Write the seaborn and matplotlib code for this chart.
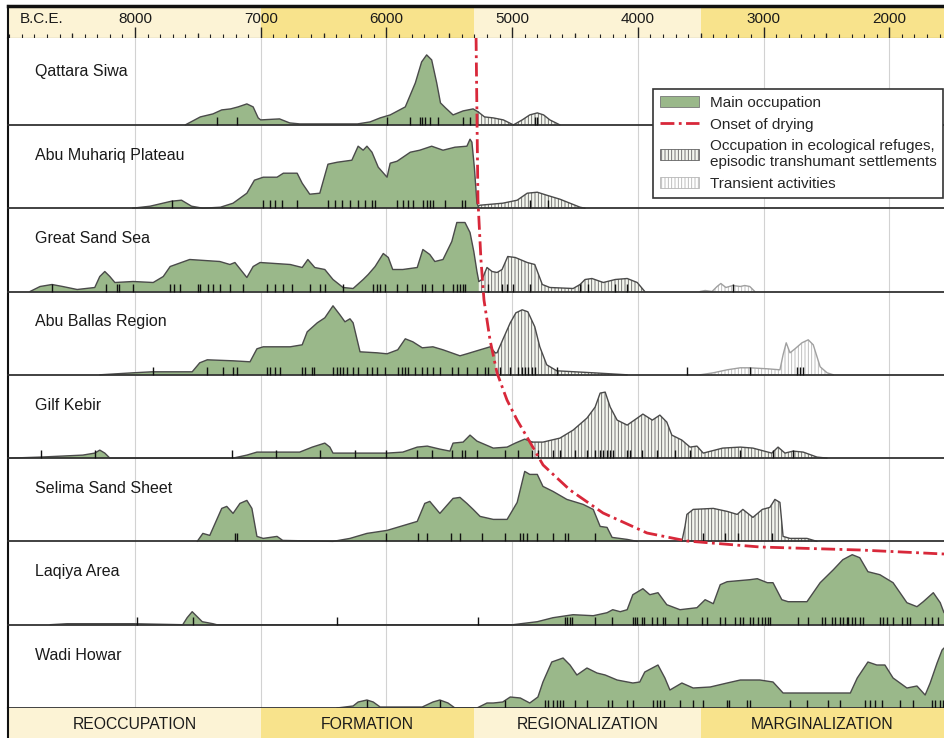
import matplotlib
matplotlib.use("Agg")
import numpy as np
import matplotlib.pyplot as plt
import seaborn as sns
from matplotlib.patches import Patch
from matplotlib.lines import Line2D
from matplotlib.ticker import MultipleLocator

# regions, top to bottom
regions = ['Qattara Siwa', 'Abu Muhariq Plateau', 'Great Sand Sea', 'Abu Ballas Region',
           'Gilf Kebir', 'Selima Sand Sheet', 'Laqiya Area', 'Wadi Howar']

phases = ['REOCCUPATION', 'FORMATION', 'REGIONALIZATION', 'MARGINALIZATION']
phase_start = [9100, 7000, 5300, 3500]
phase_end = [7000, 5300, 3500, 1400]

year_labels = [8000, 7000, 6000, 5000, 4000, 3000, 2000]

# (year B.C.E., relative height) along the occupation curves
qattara_main = [(7600, 0), (7480, 8), (7380, 11), (7310, 15), (7240, 16), (7180, 18), (7110, 21),
                (7060, 18), (7020, 7), (7000, 5), (6850, 6), (6770, 2), (6690, 1), (6230, 1),
                (6130, 3), (6050, 7), (5970, 10), (5850, 18), (5770, 42), (5720, 63), (5680, 70),
                (5640, 65), (5600, 42), (5570, 22), (5530, 17), (5470, 10), (5390, 14), (5310, 16),
                (5270, 13)]
qattara_refuge = [(5270, 13), (5220, 8), (5150, 7), (5070, 5), (4990, 0), (4920, 5), (4860, 10),
                  (4800, 12), (4750, 10), (4700, 5), (4620, 0)]
qattara_dates = [7348, 7189, 5995, 5812, 5733, 5717, 5693, 5653, 5590, 5391, 5335, 4818, 4802]

abu_muhariq_main = [(8020, 0), (7880, 2), (7710, 7), (7630, 8), (7550, 2), (7460, 0), (7320, 1),
                    (7220, 5), (7110, 15), (7050, 28), (6980, 31), (6870, 31), (6820, 35),
                    (6710, 35), (6670, 25), (6610, 14), (6530, 15), (6465, 44), (6390, 46),
                    (6275, 48), (6225, 62), (6185, 58), (6155, 62), (6115, 56), (6065, 41),
                    (5995, 31), (5970, 45), (5915, 47), (5810, 56), (5735, 58), (5640, 62),
                    (5550, 58), (5455, 61), (5360, 62), (5335, 69), (5320, 66), (5300, 40),
                    (5280, 5), (5270, 2)]
abu_muhariq_refuge = [(5270, 2), (5255, 3), (5075, 5), (4960, 8), (4880, 15), (4800, 16),
                      (4725, 13), (4620, 9), (4540, 5), (4460, 1), (4420, 0)]
abu_muhariq_dates = [7706, 6982, 6926, 6886, 6831, 6711, 6465, 6409, 6353, 6290, 6226, 6170, 6115,
                     6091, 5916, 5868, 5828, 5789, 5709, 5677, 5653, 5629, 5534, 5399, 5375, 4858,
                     4715]

great_sand_main = [(8835, 0), (8755, 5), (8660, 7), (8575, 5), (8460, 2), (8320, 4), (8280, 15),
                   (8240, 20), (8200, 15), (8160, 9), (8015, 10), (7855, 9), (7775, 15), (7720, 25),
                   (7565, 32), (7325, 30), (7245, 27), (7205, 29), (7110, 14), (7060, 25),
                   (7005, 29), (6765, 27), (6670, 24), (6625, 32), (6570, 24), (6490, 22),
                   (6425, 12), (6345, 4), (6265, 3), (6185, 12), (6145, 17), (6090, 25), (6025, 38),
                   (5985, 34), (5950, 22), (5870, 22), (5755, 24), (5710, 42), (5655, 37),
                   (5615, 30), (5550, 32), (5480, 50), (5440, 69), (5375, 69), (5335, 59),
                   (5305, 40), (5280, 20), (5265, 10)]
great_sand_refuge = [(5265, 10), (5240, 12), (5200, 24), (5160, 20), (5120, 19), (5080, 22),
                     (5035, 35), (4975, 34), (4880, 29), (4820, 27), (4760, 7), (4700, 4),
                     (4515, 3), (4460, 7), (4420, 12), (4365, 13), (4275, 9), (4180, 12),
                     (4085, 13), (4005, 9), (3945, 0)]
great_sand_transient = [(3505, 0), (3465, 1), (3410, 0), (3370, 5), (3340, 8), (3300, 4),
                        (3245, 6), (3185, 5), (3150, 6), (3110, 5), (3070, 0)]
great_sand_dates = [8660, 8231, 8143, 8127, 8016, 7722, 7690, 7642, 7499, 7483, 7419, 7380, 7324,
                    7244, 7141, 6950, 6886, 6823, 6751, 6608, 6528, 6489, 6345, 6107, 6075, 6051,
                    6011, 5916, 5836, 5717, 5693, 5637, 5550, 5470, 5439, 5415, 5391, 5375, 5192,
                    5081, 5041, 4993, 4858, 4460, 4396, 4182, 4086, 3243]

abu_ballas_main = [(8280, 0), (8015, 2), (7865, 3), (7545, 3), (7485, 12), (7425, 15), (7220, 14),
                   (7085, 13), (7030, 26), (6980, 28), (6765, 28), (6670, 30), (6630, 43),
                   (6550, 52), (6490, 57), (6425, 69), (6370, 60), (6330, 53), (6290, 56),
                   (6265, 52), (6210, 23), (6075, 22), (5995, 21), (5910, 25), (5850, 36),
                   (5790, 33), (5715, 27), (5630, 28), (5550, 25), (5415, 19), (5360, 21),
                   (5255, 25), (5175, 28), (5135, 22)]
abu_ballas_refuge = [(5135, 22), (5120, 22), (5075, 35), (5015, 52), (4970, 62), (4920, 65),
                     (4875, 63), (4820, 48), (4780, 28), (4725, 10), (4645, 4), (4355, 2),
                     (4085, 0)]
abu_ballas_transient = [(3505, 0), (3400, 2), (3290, 5), (3185, 7), (3110, 7), (2970, 6),
                        (2870, 5), (2845, 20), (2820, 32), (2790, 22), (2750, 26), (2695, 32),
                        (2645, 35), (2605, 30), (2575, 18), (2550, 8), (2495, 2), (2445, 0)]
abu_ballas_dates = [7857, 7427, 7300, 7221, 7189, 6950, 6926, 6886, 6847, 6672, 6648, 6592, 6576,
                    6425, 6393, 6369, 6345, 6314, 6266, 6226, 6155, 6115, 6075, 6011, 5908, 5876,
                    5852, 5828, 5773, 5717, 5677, 5629, 5574, 5478, 5431, 5359, 5279, 5216, 5192,
                    5097, 5017, 4953, 4921, 4898, 4874, 4842, 4818, 4643, 3609, 3108, 2734, 2710,
                    2686]

gilf_kebir_main = [(8995, 0), (8755, 1), (8415, 3), (8320, 5), (8280, 8), (8240, 5), (8200, 0),
                   (7220, 0), (7110, 3), (7030, 6), (6690, 6), (6590, 11), (6490, 15), (6450, 11),
                   (6425, 5), (6265, 5), (5995, 5), (5870, 6), (5755, 11), (5675, 12), (5575, 9),
                   (5495, 7), (5470, 15), (5390, 16), (5335, 23), (5280, 17), (5150, 10),
                   (5040, 11), (4975, 15), (4900, 19), (4840, 16)]
gilf_kebir_refuge = [(4840, 16), (4755, 16), (4620, 20), (4515, 28), (4405, 40), (4340, 51),
                     (4300, 65), (4260, 66), (4220, 51), (4165, 38), (4085, 33), (4005, 40),
                     (3960, 44), (3885, 38), (3825, 43), (3770, 36), (3730, 23), (3650, 18),
                     (3585, 11), (3530, 12), (3480, 5), (3325, 10), (3185, 11), (3085, 10),
                     (2935, 5), (2885, 11), (2830, 5), (2765, 7), (2685, 6), (2575, 1), (2495, 0)]
gilf_kebir_dates = [8748, 8318, 7228, 6878, 6528, 6250, 6003, 5757, 5637, 5478, 5399, 5375, 5279,
                    5057, 4953, 4842, 4794, 4675, 4619, 4500, 4404, 4341, 4301, 4277, 4245, 4222,
                    4198, 4086, 4062, 3967, 3848, 3704, 3585, 3187, 2925, 2766]

selima_main = [(7505, 0), (7460, 8), (7405, 6), (7310, 33), (7270, 35), (7220, 28), (7165, 38),
               (7110, 41), (7070, 33), (7030, 5), (6980, 3), (6870, 5), (6825, 1), (6425, 0),
               (6290, 3), (6155, 8), (5995, 11), (5755, 20), (5695, 38), (5655, 40), (5575, 28),
               (5470, 43), (5415, 44), (5360, 38), (5310, 32), (5255, 25), (5150, 22), (5040, 22),
               (4960, 39), (4900, 70), (4860, 67), (4800, 67), (4755, 55), (4675, 50), (4565, 42),
               (4435, 37), (4355, 32), (4300, 15), (4245, 14), (4205, 4), (4085, 2), (4005, 0)]
selima_refuge = [(3650, 0), (3625, 15), (3610, 27), (3560, 32), (3400, 33), (3290, 30), (3210, 27),
                 (3165, 32), (3085, 24), (3010, 32), (2950, 34), (2910, 42), (2870, 39), (2845, 5),
                 (2790, 3), (2655, 3), (2575, 0)]
selima_dates = [7205, 7189, 6003, 5749, 5677, 5486, 5415, 5240, 5057, 4937, 4913, 4882, 4802, 4675,
                4579, 4556, 4341, 3482, 3307, 3203, 2933]

laqiya_main = [(8675, 0), (8540, 1), (8015, 1), (7620, 0), (7585, 7), (7545, 13), (7505, 8),
               (7465, 3), (7380, 1), (7350, 0), (4995, 0), (4800, 3), (4675, 7), (4515, 10),
               (4355, 9), (4245, 12), (4200, 15), (4140, 13), (4085, 15), (4040, 30), (3960, 36),
               (3905, 30), (3840, 32), (3770, 20), (3665, 15), (3530, 17), (3465, 25), (3400, 21),
               (3345, 40), (3290, 43), (3110, 45), (3050, 46), (2970, 42), (2925, 42), (2855, 25),
               (2805, 23), (2655, 23), (2550, 42), (2445, 55), (2370, 65), (2295, 70), (2235, 67),
               (2170, 53), (2075, 50), (1970, 42), (1860, 22), (1780, 18), (1730, 23), (1650, 32),
               (1595, 22), (1565, 12)]
laqiya_dates = [7984, 7539, 6393, 5272, 4579, 4563, 4540, 4524, 4341, 4206, 4038, 4023, 4007, 3967,
                3951, 3887, 3848, 3800, 3784, 3681, 3609, 3490, 3450, 3346, 3307, 3227, 3187, 3163,
                3108, 3084, 3044, 3012, 2988, 2965, 2949, 2726, 2646, 2535, 2511, 2455, 2431, 2392,
                2368, 2336, 2328, 2296, 2272, 2233, 2209, 2074, 2050, 2018, 1970, 1899, 1859, 1835,
                1716, 1660, 1612]

wadi_howar_main = [(6395, 0), (6265, 2), (6225, 6), (6155, 8), (6105, 6), (6050, 1), (5715, 1),
                   (5630, 6), (5575, 8), (5510, 5), (5455, 0), (5280, 0), (5200, 5), (5150, 5),
                   (5075, 6), (5015, 11), (4935, 10), (4860, 5), (4795, 11), (4755, 26), (4685, 46),
                   (4595, 50), (4540, 43), (4485, 33), (4405, 40), (4325, 35), (4260, 33),
                   (4165, 28), (4040, 25), (3985, 26), (3945, 36), (3885, 40), (3840, 43),
                   (3785, 30), (3745, 18), (3650, 25), (3560, 20), (3425, 21), (3290, 25),
                   (3185, 28), (3030, 28), (2925, 26), (2845, 15), (2605, 15), (2310, 15),
                   (2255, 30), (2170, 46), (2100, 43), (2035, 43), (1970, 30), (1860, 20),
                   (1780, 22), (1715, 13), (1675, 25), (1620, 45), (1580, 58), (1565, 60)]
wadi_howar_dates = [6155, 5574, 5057, 4738, 4715, 4675, 4643, 4619, 4595, 4500, 4404, 4237, 4206,
                    4086, 4038, 3879, 3848, 3824, 3792, 3665, 3561, 3482, 3291, 3275, 3132, 3108,
                    2789, 2654, 2487, 2392, 2193, 2153, 2114, 2058, 1915, 1811, 1660, 1636, 1596,
                    1572]

# onset of drying: year and level on the stacked panel
dry_year = [5287, 5279, 5272, 5248, 5224, 5176, 5120, 5041, 4961, 4882, 4754, 4540, 4277, 3927,
            3609, 3028, 2233, 1565]
dry_level = [671, 583, 508, 448, 408, 368, 335, 308, 288, 271, 243, 218, 195, 175, 167, 161, 158,
             154]

rows = [
    (qattara_main, qattara_refuge, [], qattara_dates),
    (abu_muhariq_main, abu_muhariq_refuge, [], abu_muhariq_dates),
    (great_sand_main, great_sand_refuge, great_sand_transient, great_sand_dates),
    (abu_ballas_main, abu_ballas_refuge, abu_ballas_transient, abu_ballas_dates),
    (gilf_kebir_main, gilf_kebir_refuge, [], gilf_kebir_dates),
    (selima_main, selima_refuge, [], selima_dates),
    (laqiya_main, [], [], laqiya_dates),
    (wadi_howar_main, [], [], wadi_howar_dates),
]

sns.set_style("white")
plt.rcParams['font.family'] = ['Liberation Sans', 'DejaVu Sans']
plt.rcParams['hatch.linewidth'] = 0.6

GREEN = '#9ab88a'
OUTLINE = '#4a4a4a'
REFUGE_FILL = '#f3f6ee'
REFUGE_HATCH = '#626262'
TRANS_HATCH = '#b5b5b5'
TRANS_LINE = '#a0a0a0'
CREAM = '#fcf3d5'
YELLOW = '#f8e38c'
RED = '#d8283a'
DRY_STYLE = (0, (5, 1.6, 1, 1.6))

X_LEFT, X_RIGHT = 9010, 1565
ROW_STEP = 83.3

fig = plt.figure(figsize=(9.44, 7.38), dpi=100)
ax_top = fig.add_axes([8 / 944, 1 - 38 / 738, 936 / 944, 32 / 738])
ax = fig.add_axes([8 / 944, 30 / 738, 936 / 944, 670 / 738])
ax_bot = fig.add_axes([8 / 944, 0, 936 / 944, 30 / 738])


def draw_curve(ax, pts, base, kind):
    xs = [p[0] for p in pts]
    ys = [base + p[1] for p in pts]
    if kind == 'main':
        ax.fill_between(xs, base, ys, facecolor=GREEN, edgecolor='none', linewidth=0, zorder=2)
        col = OUTLINE
    elif kind == 'refuge':
        ax.fill_between(xs, base, ys, facecolor=REFUGE_FILL, edgecolor=REFUGE_HATCH,
                        hatch='|||||', linewidth=0, zorder=2)
        col = OUTLINE
    else:
        ax.fill_between(xs, base, ys, facecolor='white', edgecolor=TRANS_HATCH,
                        hatch='|||||', linewidth=0, zorder=2)
        col = TRANS_LINE
    sns.lineplot(x=xs, y=ys, ax=ax, color=col, lw=1.0, sort=False, estimator=None, zorder=3)


# ---- top time band
for s, e, c in zip(phase_start, phase_end, [CREAM, YELLOW, CREAM, YELLOW]):
    ax_top.axvspan(s, e, color=c, lw=0, zorder=0)
ax_top.set_axisbelow(False)
ax_top.set_xlim(X_LEFT, X_RIGHT)
ax_top.set_ylim(0, 1)
ax_top.set_yticks([])
ax_top.set_xticks(year_labels)
ax_top.xaxis.set_minor_locator(MultipleLocator(100))
ax_top.tick_params(axis='x', which='both', bottom=True, top=False, direction='in',
                   color='#222222', labelbottom=False)
ax_top.tick_params(axis='x', which='major', length=8, width=1.0)
ax_top.tick_params(axis='x', which='minor', length=3, width=0.8)
ax_top.vlines([y + 500 for y in year_labels] + [1500], 0, 5.5 / 32, color='#222222', lw=0.9)
for yr in year_labels:
    ax_top.text(yr, 0.58, str(yr), ha='center', va='center', fontsize=11, color='#1a1a1a')
ax_top.text(8915, 0.58, 'B.C.E.', ha='left', va='center', fontsize=11, color='#1a1a1a')
ax_top.spines['right'].set_visible(False)
ax_top.spines['top'].set_linewidth(2.5)
ax_top.spines['top'].set_color('#111111')
ax_top.spines['left'].set_linewidth(1.5)
ax_top.spines['left'].set_color('#111111')
ax_top.spines['bottom'].set_linewidth(0.8)
ax_top.spines['bottom'].set_color('#444444')

# ---- main stacked panel
ax.set_xlim(X_LEFT, X_RIGHT)
ax.set_ylim(0, 670)
ax.set_xticks([])
ax.set_yticks([])
for yr in year_labels:
    ax.axvline(yr, color='#d2d2d2', lw=0.8, zorder=0)
for side in ['top', 'right', 'bottom']:
    ax.spines[side].set_visible(False)
ax.spines['left'].set_linewidth(1.5)
ax.spines['left'].set_color('#111111')

for i, (name, (main, refuge, transient, dates)) in enumerate(zip(regions, rows)):
    base = (7 - i) * ROW_STEP
    draw_curve(ax, main, base, 'main')
    if refuge:
        draw_curve(ax, refuge, base, 'refuge')
    if transient:
        draw_curve(ax, transient, base, 'transient')
    ax.vlines(dates, base, base + 8, color='#111111', lw=1.0, zorder=5)
    ax.axhline(base, color='#333333', lw=1.3, zorder=4, clip_on=False)
    ax.text(8796, base + 53, name, ha='left', va='center', fontsize=11.5, color='#1a1a1a',
            zorder=6)

sns.lineplot(x=dry_year, y=dry_level, ax=ax, color=RED, lw=2.0, sort=False, estimator=None,
             linestyle=DRY_STYLE, zorder=7)

# ---- bottom phase band
for s, e, c, p in zip(phase_start, phase_end, [CREAM, YELLOW, CREAM, YELLOW], phases):
    ax_bot.axvspan(s, e, color=c, lw=0)
    mid = (min(s, X_LEFT) + max(e, X_RIGHT)) / 2
    ax_bot.text(mid, 0.45, p, ha='center', va='center', fontsize=11.3, color='#1a1a1a')
ax_bot.set_xlim(X_LEFT, X_RIGHT)
ax_bot.set_ylim(0, 1)
ax_bot.set_xticks([])
ax_bot.set_yticks([])
for side in ['top', 'right', 'bottom']:
    ax_bot.spines[side].set_visible(False)
ax_bot.spines['left'].set_linewidth(1.5)
ax_bot.spines['left'].set_color('#111111')

# ---- legend
handles = [
    Patch(facecolor=GREEN, edgecolor='#777777', lw=0.6),
    Line2D([], [], color=RED, lw=2.0, linestyle=DRY_STYLE),
    Patch(facecolor=REFUGE_FILL, edgecolor=REFUGE_HATCH, hatch='|||||', lw=0.6),
    Patch(facecolor='white', edgecolor=TRANS_HATCH, hatch='|||||', lw=0.6),
]
labels = ['Main occupation', 'Onset of drying',
          'Occupation in ecological refuges,\nepisodic transhumant settlements',
          'Transient activities']
leg = fig.legend(handles, labels, loc='upper left', bbox_to_anchor=(653 / 944, 1 - 89 / 738),
                 borderaxespad=0, frameon=True, fancybox=False, framealpha=1,
                 edgecolor='#333333', fontsize=11, handlelength=2.55, handleheight=0.72,
                 handletextpad=0.7, borderpad=0.45, labelspacing=0.5)
leg.get_frame().set_linewidth(1.2)
leg.set_zorder(10)

fig.savefig('out.png', dpi=100)
